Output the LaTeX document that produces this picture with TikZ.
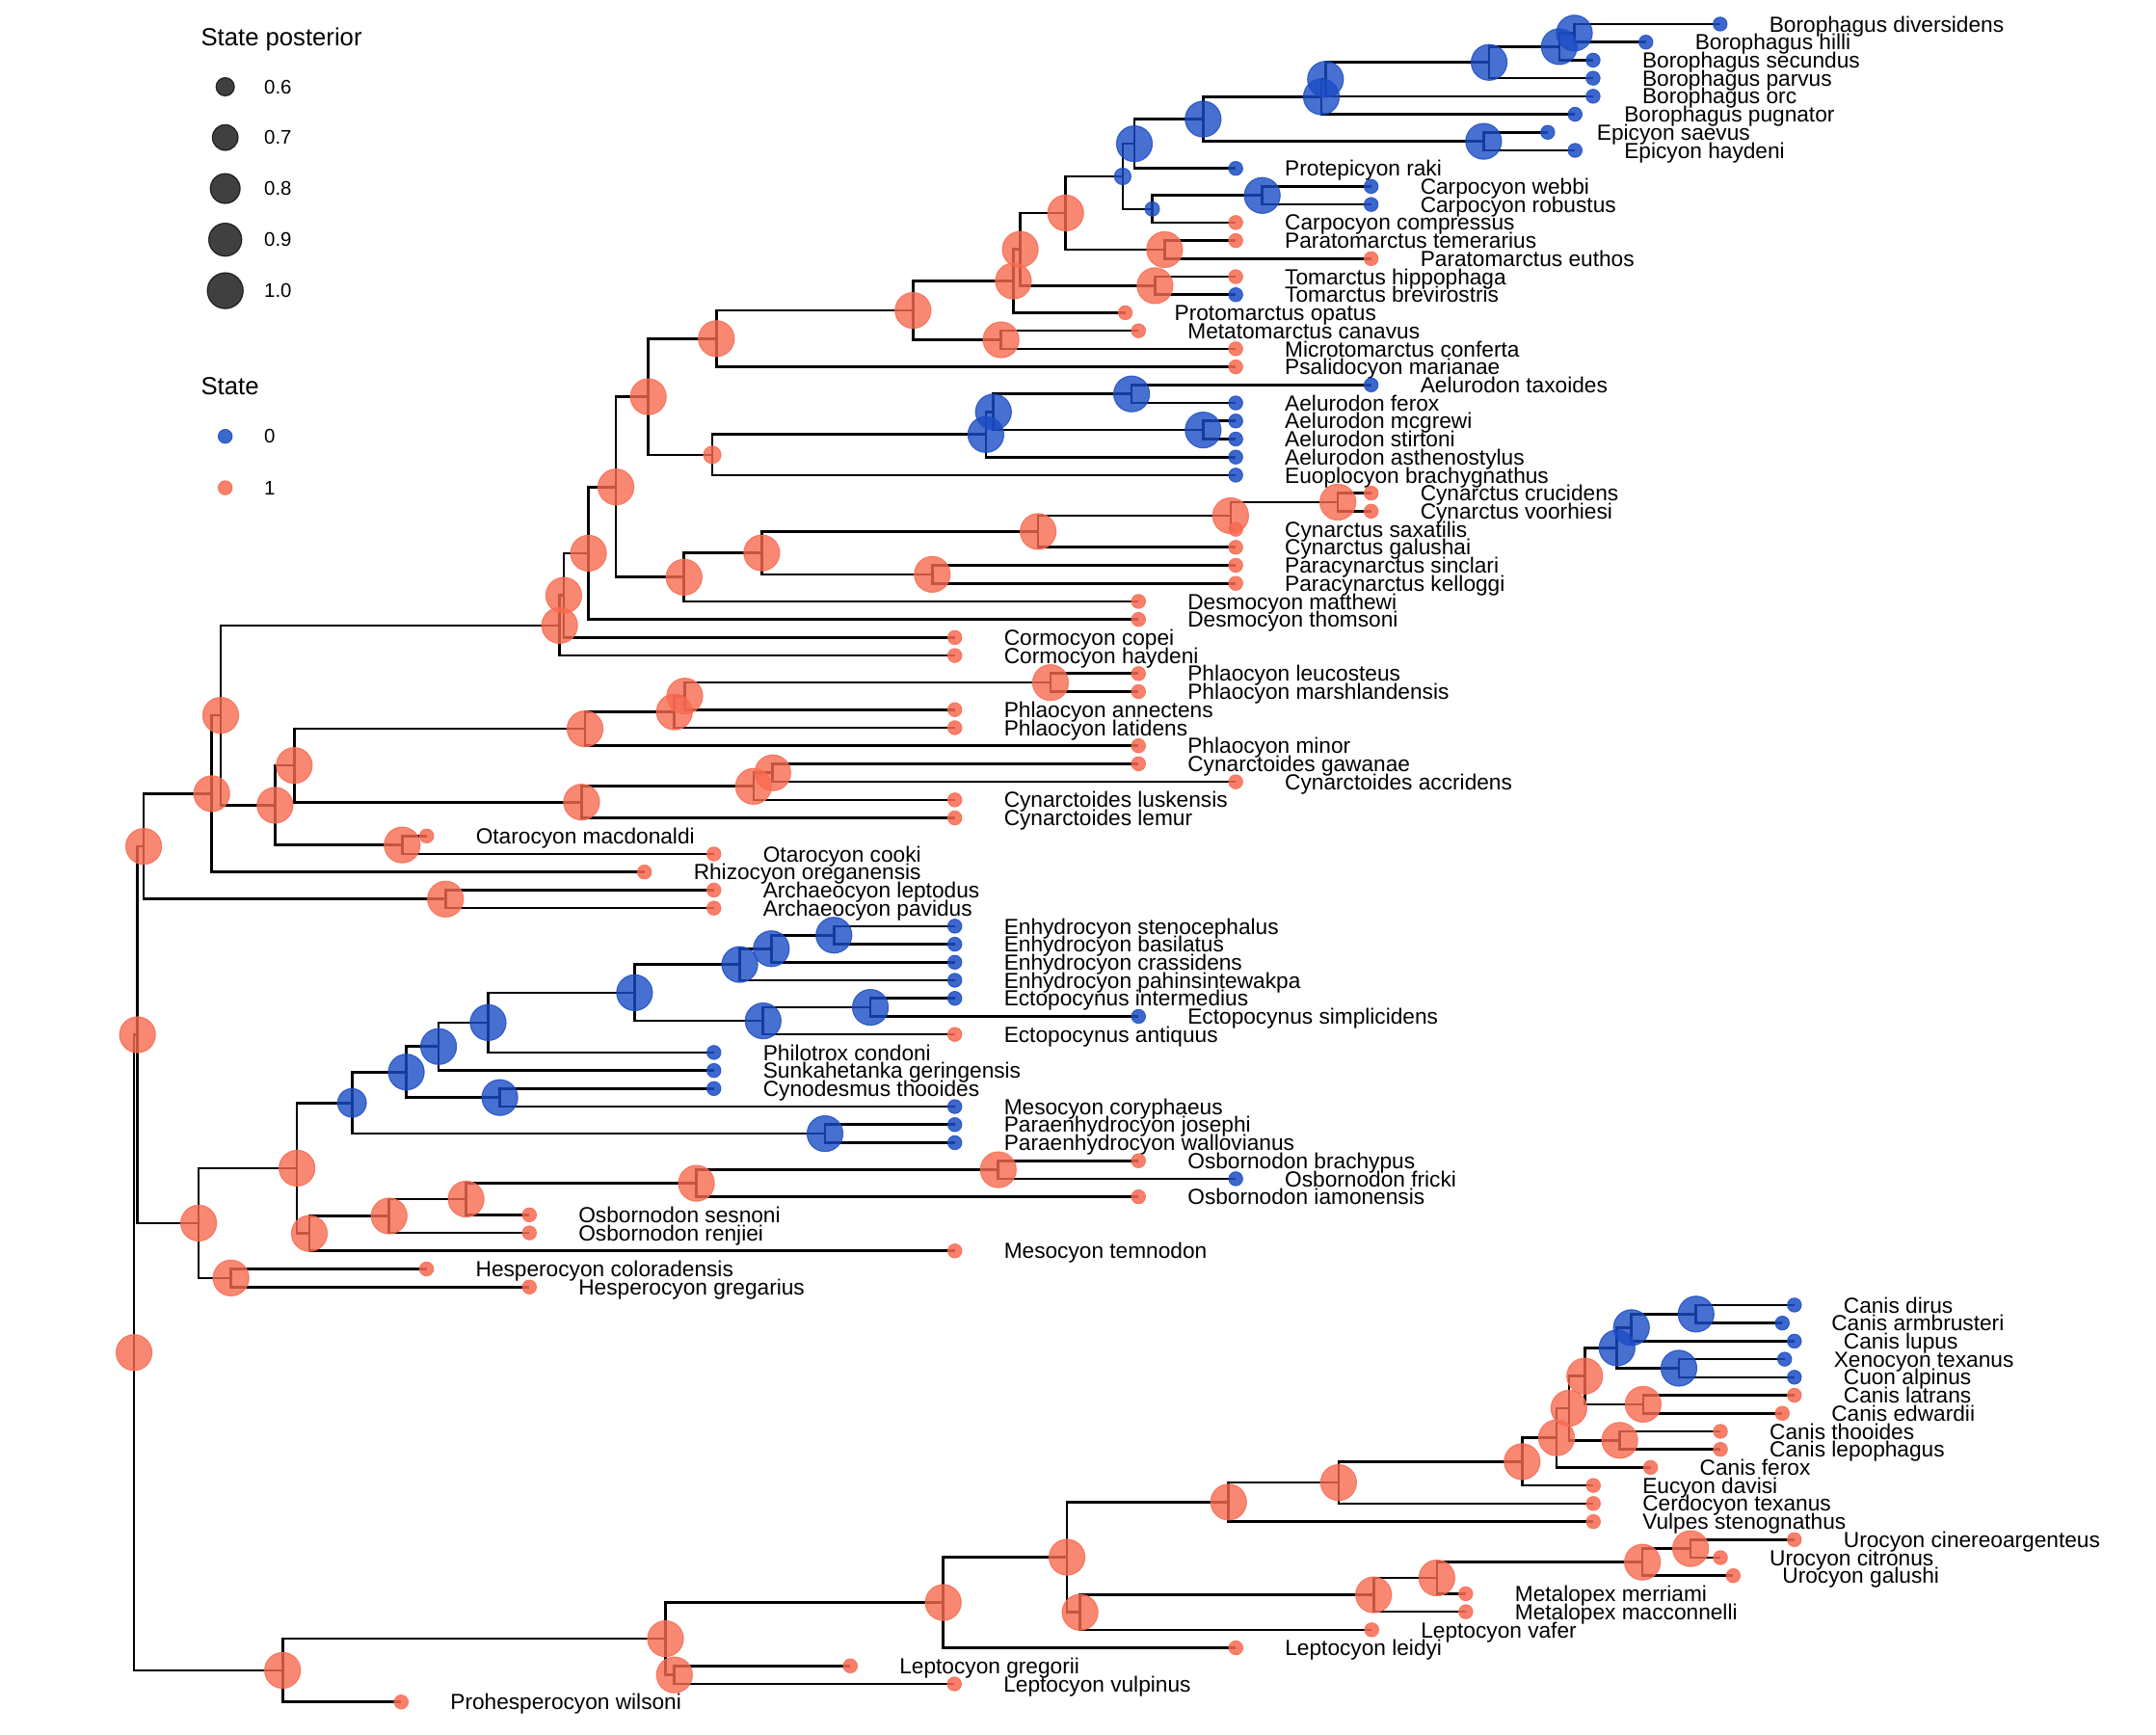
\documentclass[tikz,border=0pt]{standalone}
\usepackage{fontspec}
\setmainfont{Liberation Sans}
\usetikzlibrary{positioning,backgrounds}
\definecolor{StateZero}{RGB}{26,76,196}
\definecolor{StateOne}{RGB}{247,106,80}
\begin{document}
\begin{tikzpicture}
[
x=1pt, y=-1pt,
Branch/.style={draw=black, line width=1.85pt},
NodeZero/.style={circle, fill=StateZero, draw=StateZero, opacity=0.8, line width=0.8pt, inner sep=0pt, outer sep=0pt, minimum size=26pt},
NodeOne/.style={circle, fill=StateOne, draw=StateOne, opacity=0.8, line width=0.8pt, inner sep=0pt, outer sep=0pt, minimum size=26pt},
TipZero/.style={circle, fill=StateZero, draw=StateZero, opacity=0.85, line width=0.6pt, inner sep=0pt, outer sep=0pt, minimum size=10.2pt},
TipOne/.style={circle, fill=StateOne, draw=StateOne, opacity=0.85, line width=0.6pt, inner sep=0pt, outer sep=0pt, minimum size=10.2pt},
KeyDot/.style={circle, fill=black, draw=black, opacity=0.75, line width=0.8pt, inner sep=0pt, outer sep=0pt},
Taxon/.style={font=\fontsize{15.9}{18}\selectfont, inner sep=0pt, text height=11.4pt, text depth=0pt},
KeyTitle/.style={font=\fontsize{18}{21}\selectfont, inner sep=0pt, text height=12.9pt, text depth=0pt, anchor=west},
KeyText/.style={font=\fontsize{14.3}{17}\selectfont, inner sep=0pt, text height=10.2pt, text depth=0pt, anchor=west},
]

\useasboundingbox (0,0) rectangle (1568,1261);

% legend
\node[KeyTitle] (kpost) at (146,26.5) {State posterior};
\node[KeyDot, minimum size=13.3pt] (k6) at (163.8,63.1) {};
\node[KeyDot, minimum size=18.7pt] (k7) at (163.8,100.0) {};
\node[KeyDot, minimum size=21.7pt] (k8) at (163.8,137.1) {};
\node[KeyDot, minimum size=24.0pt] (k9) at (163.8,174.3) {};
\node[KeyDot, minimum size=26.1pt] (k10) at (163.8,211.4) {};
\node[KeyText] (k6l) at (192,63.1) {0.6};
\node[KeyText] (k7l) at (192,100.0) {0.7};
\node[KeyText] (k8l) at (192,137.1) {0.8};
\node[KeyText] (k9l) at (192,174.3) {0.9};
\node[KeyText] (k10l) at (192,211.4) {1.0};
\node[KeyTitle] (kstate) at (146,280.8) {State};
\node[TipZero] (ks0) at (163.8,317.3) {};
\node[TipOne] (ks1) at (163.8,354.7) {};
\node[KeyText] (ks0l) at (192,317.3) {0};
\node[KeyText] (ks1l) at (192,354.7) {1};

% tips: Borophaginae
\node[TipZero] (t1) at (1251,17.50) {}; \node[Taxon, right=30.5pt of t1] (l1) {Borophagus diversidens};
\node[TipZero] (t2) at (1197,30.62) {}; \node[Taxon, right=30.5pt of t2] (l2) {Borophagus hilli};
\node[TipZero] (t3) at (1158.6,43.74) {}; \node[Taxon, right=30.5pt of t3] (l3) {Borophagus secundus};
\node[TipZero] (t4) at (1158.6,56.86) {}; \node[Taxon, right=30.5pt of t4] (l4) {Borophagus parvus};
\node[TipZero] (t5) at (1158.6,69.98) {}; \node[Taxon, right=30.5pt of t5] (l5) {Borophagus orc};
\node[TipZero] (t6) at (1145.5,83.10) {}; \node[Taxon, right=30.5pt of t6] (l6) {Borophagus pugnator};
\node[TipZero] (t7) at (1125.6,96.22) {}; \node[Taxon, right=30.5pt of t7] (l7) {Epicyon saevus};
\node[TipZero] (t8) at (1145.5,109.34) {}; \node[Taxon, right=30.5pt of t8] (l8) {Epicyon haydeni};
\node[TipZero] (t9) at (898.7,122.46) {}; \node[Taxon, right=30.5pt of t9] (l9) {Protepicyon raki};
\node[TipZero] (t10) at (997.2,135.58) {}; \node[Taxon, right=30.5pt of t10] (l10) {Carpocyon webbi};
\node[TipZero] (t11) at (997.2,148.70) {}; \node[Taxon, right=30.5pt of t11] (l11) {Carpocyon robustus};
\node[TipOne] (t12) at (898.7,161.82) {}; \node[Taxon, right=30.5pt of t12] (l12) {Carpocyon compressus};
\node[TipOne] (t13) at (898.7,174.94) {}; \node[Taxon, right=30.5pt of t13] (l13) {Paratomarctus temerarius};
\node[TipOne] (t14) at (997.2,188.06) {}; \node[Taxon, right=30.5pt of t14] (l14) {Paratomarctus euthos};
\node[TipOne] (t15) at (898.7,201.18) {}; \node[Taxon, right=30.5pt of t15] (l15) {Tomarctus hippophaga};
\node[TipZero] (t16) at (898.7,214.30) {}; \node[Taxon, right=30.5pt of t16] (l16) {Tomarctus brevirostris};
\node[TipOne] (t17) at (818.4,227.42) {}; \node[Taxon, right=30.5pt of t17] (l17) {Protomarctus opatus};
\node[TipOne] (t18) at (828,240.54) {}; \node[Taxon, right=30.5pt of t18] (l18) {Metatomarctus canavus};
\node[TipOne] (t19) at (898.7,253.66) {}; \node[Taxon, right=30.5pt of t19] (l19) {Microtomarctus conferta};
\node[TipOne] (t20) at (898.7,266.78) {}; \node[Taxon, right=30.5pt of t20] (l20) {Psalidocyon marianae};
\node[TipZero] (t21) at (997.2,279.90) {}; \node[Taxon, right=30.5pt of t21] (l21) {Aelurodon taxoides};
\node[TipZero] (t22) at (898.7,293.02) {}; \node[Taxon, right=30.5pt of t22] (l22) {Aelurodon ferox};
\node[TipZero] (t23) at (898.7,306.14) {}; \node[Taxon, right=30.5pt of t23] (l23) {Aelurodon mcgrewi};
\node[TipZero] (t24) at (898.7,319.26) {}; \node[Taxon, right=30.5pt of t24] (l24) {Aelurodon stirtoni};
\node[TipZero] (t25) at (898.7,332.38) {}; \node[Taxon, right=30.5pt of t25] (l25) {Aelurodon asthenostylus};
\node[TipZero] (t26) at (898.7,345.50) {}; \node[Taxon, right=30.5pt of t26] (l26) {Euoplocyon brachygnathus};
\node[TipOne] (t27) at (997.2,358.62) {}; \node[Taxon, right=30.5pt of t27] (l27) {Cynarctus crucidens};
\node[TipOne] (t28) at (997.2,371.74) {}; \node[Taxon, right=30.5pt of t28] (l28) {Cynarctus voorhiesi};
\node[TipOne] (t29) at (898.7,384.86) {}; \node[Taxon, right=30.5pt of t29] (l29) {Cynarctus saxatilis};
\node[TipOne] (t30) at (898.7,397.98) {}; \node[Taxon, right=30.5pt of t30] (l30) {Cynarctus galushai};
\node[TipOne] (t31) at (898.7,411.10) {}; \node[Taxon, right=30.5pt of t31] (l31) {Paracynarctus sinclari};
\node[TipOne] (t32) at (898.7,424.22) {}; \node[Taxon, right=30.5pt of t32] (l32) {Paracynarctus kelloggi};
\node[TipOne] (t33) at (828,437.34) {}; \node[Taxon, right=30.5pt of t33] (l33) {Desmocyon matthewi};
\node[TipOne] (t34) at (828,450.46) {}; \node[Taxon, right=30.5pt of t34] (l34) {Desmocyon thomsoni};
\node[TipOne] (t35) at (694.4,463.58) {}; \node[Taxon, right=30.5pt of t35] (l35) {Cormocyon copei};
\node[TipOne] (t36) at (694.4,476.70) {}; \node[Taxon, right=30.5pt of t36] (l36) {Cormocyon haydeni};
\node[TipOne] (t37) at (828,489.82) {}; \node[Taxon, right=30.5pt of t37] (l37) {Phlaocyon leucosteus};
\node[TipOne] (t38) at (828,502.94) {}; \node[Taxon, right=30.5pt of t38] (l38) {Phlaocyon marshlandensis};
\node[TipOne] (t39) at (694.4,516.06) {}; \node[Taxon, right=30.5pt of t39] (l39) {Phlaocyon annectens};
\node[TipOne] (t40) at (694.4,529.18) {}; \node[Taxon, right=30.5pt of t40] (l40) {Phlaocyon latidens};
\node[TipOne] (t41) at (828,542.30) {}; \node[Taxon, right=30.5pt of t41] (l41) {Phlaocyon minor};
\node[TipOne] (t42) at (828,555.42) {}; \node[Taxon, right=30.5pt of t42] (l42) {Cynarctoides gawanae};
\node[TipOne] (t43) at (898.7,568.54) {}; \node[Taxon, right=30.5pt of t43] (l43) {Cynarctoides accridens};
\node[TipOne] (t44) at (694.4,581.66) {}; \node[Taxon, right=30.5pt of t44] (l44) {Cynarctoides luskensis};
\node[TipOne] (t45) at (694.4,594.78) {}; \node[Taxon, right=30.5pt of t45] (l45) {Cynarctoides lemur};
\node[TipOne] (t46) at (310.3,607.90) {}; \node[Taxon, right=30.5pt of t46] (l46) {Otarocyon macdonaldi};
\node[TipOne] (t47) at (519.2,621.02) {}; \node[Taxon, right=30.5pt of t47] (l47) {Otarocyon cooki};
\node[TipOne] (t48) at (468.7,634.14) {}; \node[Taxon, right=30.5pt of t48] (l48) {Rhizocyon oreganensis};
\node[TipOne] (t49) at (519.2,647.26) {}; \node[Taxon, right=30.5pt of t49] (l49) {Archaeocyon leptodus};
\node[TipOne] (t50) at (519.2,660.38) {}; \node[Taxon, right=30.5pt of t50] (l50) {Archaeocyon pavidus};

% tips: Hesperocyoninae
\node[TipZero] (t51) at (694.4,673.50) {}; \node[Taxon, right=30.5pt of t51] (l51) {Enhydrocyon stenocephalus};
\node[TipZero] (t52) at (694.4,686.62) {}; \node[Taxon, right=30.5pt of t52] (l52) {Enhydrocyon basilatus};
\node[TipZero] (t53) at (694.4,699.74) {}; \node[Taxon, right=30.5pt of t53] (l53) {Enhydrocyon crassidens};
\node[TipZero] (t54) at (694.4,712.86) {}; \node[Taxon, right=30.5pt of t54] (l54) {Enhydrocyon pahinsintewakpa};
\node[TipZero] (t55) at (694.4,725.98) {}; \node[Taxon, right=30.5pt of t55] (l55) {Ectopocynus intermedius};
\node[TipZero] (t56) at (828,739.10) {}; \node[Taxon, right=30.5pt of t56] (l56) {Ectopocynus simplicidens};
\node[TipOne] (t57) at (694.4,752.22) {}; \node[Taxon, right=30.5pt of t57] (l57) {Ectopocynus antiquus};
\node[TipZero] (t58) at (519.2,765.34) {}; \node[Taxon, right=30.5pt of t58] (l58) {Philotrox condoni};
\node[TipZero] (t59) at (519.2,778.46) {}; \node[Taxon, right=30.5pt of t59] (l59) {Sunkahetanka geringensis};
\node[TipZero] (t60) at (519.2,791.58) {}; \node[Taxon, right=30.5pt of t60] (l60) {Cynodesmus thooides};
\node[TipZero] (t61) at (694.4,804.70) {}; \node[Taxon, right=30.5pt of t61] (l61) {Mesocyon coryphaeus};
\node[TipZero] (t62) at (694.4,817.82) {}; \node[Taxon, right=30.5pt of t62] (l62) {Paraenhydrocyon josephi};
\node[TipZero] (t63) at (694.4,830.94) {}; \node[Taxon, right=30.5pt of t63] (l63) {Paraenhydrocyon wallovianus};
\node[TipOne] (t64) at (828,844.06) {}; \node[Taxon, right=30.5pt of t64] (l64) {Osbornodon brachypus};
\node[TipZero] (t65) at (898.7,857.18) {}; \node[Taxon, right=30.5pt of t65] (l65) {Osbornodon fricki};
\node[TipOne] (t66) at (828,870.30) {}; \node[Taxon, right=30.5pt of t66] (l66) {Osbornodon iamonensis};
\node[TipOne] (t67) at (385,883.42) {}; \node[Taxon, right=30.5pt of t67] (l67) {Osbornodon sesnoni};
\node[TipOne] (t68) at (385,896.54) {}; \node[Taxon, right=30.5pt of t68] (l68) {Osbornodon renjiei};
\node[TipOne] (t69) at (694.4,909.66) {}; \node[Taxon, right=30.5pt of t69] (l69) {Mesocyon temnodon};
\node[TipOne] (t70) at (310.2,922.78) {}; \node[Taxon, right=30.5pt of t70] (l70) {Hesperocyon coloradensis};
\node[TipOne] (t71) at (385,935.90) {}; \node[Taxon, right=30.5pt of t71] (l71) {Hesperocyon gregarius};

% tips: Caninae
\node[TipZero] (t72) at (1305,949.02) {}; \node[Taxon, right=30.5pt of t72] (l72) {Canis dirus};
\node[TipZero] (t73) at (1296.2,962.14) {}; \node[Taxon, right=30.5pt of t73] (l73) {Canis armbrusteri};
\node[TipZero] (t74) at (1305,975.26) {}; \node[Taxon, right=30.5pt of t74] (l74) {Canis lupus};
\node[TipZero] (t75) at (1297.9,988.38) {}; \node[Taxon, right=30.5pt of t75] (l75) {Xenocyon texanus};
\node[TipZero] (t76) at (1305,1001.50) {}; \node[Taxon, right=30.5pt of t76] (l76) {Cuon alpinus};
\node[TipOne] (t77) at (1305,1014.62) {}; \node[Taxon, right=30.5pt of t77] (l77) {Canis latrans};
\node[TipOne] (t78) at (1296.2,1027.74) {}; \node[Taxon, right=30.5pt of t78] (l78) {Canis edwardii};
\node[TipOne] (t79) at (1251.2,1040.86) {}; \node[Taxon, right=30.5pt of t79] (l79) {Canis thooides};
\node[TipOne] (t80) at (1251.2,1053.98) {}; \node[Taxon, right=30.5pt of t80] (l80) {Canis lepophagus};
\node[TipOne] (t81) at (1200.4,1067.10) {}; \node[Taxon, right=30.5pt of t81] (l81) {Canis ferox};
\node[TipOne] (t82) at (1158.8,1080.22) {}; \node[Taxon, right=30.5pt of t82] (l82) {Eucyon davisi};
\node[TipOne] (t83) at (1158.8,1093.34) {}; \node[Taxon, right=30.5pt of t83] (l83) {Cerdocyon texanus};
\node[TipOne] (t84) at (1158.8,1106.46) {}; \node[Taxon, right=30.5pt of t84] (l84) {Vulpes stenognathus};
\node[TipOne] (t85) at (1305,1119.58) {}; \node[Taxon, right=30.5pt of t85] (l85) {Urocyon cinereoargenteus};
\node[TipOne] (t86) at (1251.2,1132.70) {}; \node[Taxon, right=30.5pt of t86] (l86) {Urocyon citronus};
\node[TipOne] (t87) at (1260.5,1145.82) {}; \node[Taxon, right=30.5pt of t87] (l87) {Urocyon galushi};
\node[TipOne] (t88) at (1066,1158.94) {}; \node[Taxon, right=30.5pt of t88] (l88) {Metalopex merriami};
\node[TipOne] (t89) at (1066,1172.06) {}; \node[Taxon, right=30.5pt of t89] (l89) {Metalopex macconnelli};
\node[TipOne] (t90) at (997.6,1185.18) {}; \node[Taxon, right=30.5pt of t90] (l90) {Leptocyon vafer};
\node[TipOne] (t91) at (898.8,1198.30) {}; \node[Taxon, right=30.5pt of t91] (l91) {Leptocyon leidyi};
\node[TipOne] (t92) at (618.4,1211.42) {}; \node[Taxon, right=30.5pt of t92] (l92) {Leptocyon gregorii};
\node[TipOne] (t93) at (694.1,1224.54) {}; \node[Taxon, right=30.5pt of t93] (l93) {Leptocyon vulpinus};
\node[TipOne] (t94) at (291.8,1237.66) {}; \node[Taxon, right=30.5pt of t94] (l94) {Prohesperocyon wilsoni};

% ancestral states: Borophaginae
\node[NodeZero] (n1) at (1145,24.06) {};
\node[NodeZero] (n2) at (1134,33.90) {};
\node[NodeZero] (n3) at (1083,45.38) {};
\node[NodeZero] (n4) at (964,57.68) {};
\node[NodeZero] (n5) at (961,70.39) {};
\node[NodeZero] (epi) at (1079,102.78) {};
\node[NodeZero] (n6) at (875,86.59) {};
\node[NodeZero] (n7) at (825,104.52) {};
\node[NodeZero] (carp) at (918,142.14) {};
\node[NodeZero, minimum size=10.4pt] (n8) at (838,151.98) {};
\node[NodeZero, minimum size=12pt] (n9) at (816.5,128.25) {};
\node[NodeOne] (para) at (847,181.50) {};
\node[NodeOne] (n10) at (775,154.88) {};
\node[NodeOne] (tom) at (840,207.74) {};
\node[NodeOne] (n11) at (742,181.31) {};
\node[NodeOne] (n12) at (737,204.37) {};
\node[NodeOne] (meta) at (728,247.10) {};
\node[NodeOne] (n13) at (664,225.74) {};
\node[NodeOne] (n14) at (521,246.26) {};
\node[NodeZero] (ael1) at (823,286.46) {};
\node[NodeZero] (ael2) at (875,312.70) {};
\node[NodeZero] (ael3) at (722.5,299.58) {};
\node[NodeZero] (ael4) at (717,315.98) {};
\node[NodeOne, minimum size=12.6pt] (ael5) at (518,330.74) {};
\node[NodeOne] (n15) at (471.5,288.50) {};
\node[NodeOne] (cyn1) at (973,365.18) {};
\node[NodeOne] (cyn2) at (895,375.02) {};
\node[NodeOne] (cyn3) at (755,386.50) {};
\node[NodeOne] (pcyn) at (678,417.66) {};
\node[NodeOne] (cyn4) at (554,402.08) {};
\node[NodeOne] (cyn5) at (497.5,419.71) {};
\node[NodeOne] (n16) at (448,354.11) {};
\node[NodeOne] (n17) at (428,402.29) {};
\node[NodeOne] (n18) at (410,432.94) {};
\node[NodeOne] (n19) at (407,454.82) {};
\node[NodeOne] (phl1) at (764,496.38) {};
\node[NodeOne] (phl2) at (498,506.22) {};
\node[NodeOne] (phl3) at (490.5,517.70) {};
\node[NodeOne] (phl4) at (425.5,530.00) {};
\node[NodeOne] (cyd1) at (562,561.98) {};
\node[NodeOne] (cyd2) at (548,571.82) {};
\node[NodeOne] (cyd3) at (423,583.30) {};
\node[NodeOne] (phc) at (214,556.65) {};
\node[NodeOne] (ota) at (292.5,614.46) {};
\node[NodeOne] (phot) at (200,585.56) {};
\node[NodeOne] (bor1) at (160.5,520.19) {};
\node[NodeOne] (bor2) at (154,577.17) {};
\node[NodeOne] (arch) at (324,653.82) {};
\node[NodeOne] (bor3) at (104.5,615.50) {};

% ancestral states: Hesperocyoninae
\node[NodeZero] (enh1) at (606.5,680.06) {};
\node[NodeZero] (enh2) at (561,689.90) {};
\node[NodeZero] (enh3) at (538,701.38) {};
\node[NodeZero] (ect1) at (633,732.54) {};
\node[NodeZero] (ect2) at (555,742.38) {};
\node[NodeZero] (h1) at (461.5,721.88) {};
\node[NodeZero] (h2) at (355,743.61) {};
\node[NodeZero] (h3) at (319,761.04) {};
\node[NodeZero] (cyme) at (363.5,798.14) {};
\node[NodeZero] (h4) at (295.5,779.59) {};
\node[NodeZero] (paen) at (600,824.38) {};
\node[NodeZero, minimum size=20.8pt] (h5) at (256,801.99) {};
\node[NodeOne] (osb1) at (726,850.62) {};
\node[NodeOne] (osb2) at (506.5,860.46) {};
\node[NodeOne] (osb3) at (339,871.94) {};
\node[NodeOne] (osb4) at (283,884.24) {};
\node[NodeOne] (osb5) at (225,896.95) {};
\node[NodeOne] (h6) at (216,849.47) {};
\node[NodeOne] (hes) at (168,929.34) {};
\node[NodeOne] (h7) at (144.5,889.41) {};
\node[NodeOne] (hbor) at (100,752.46) {};

% ancestral states: Caninae
\node[NodeZero] (c1) at (1233.5,955.58) {};
\node[NodeZero] (c2) at (1186.5,965.42) {};
\node[NodeZero] (xecu) at (1221,994.94) {};
\node[NodeZero] (c3) at (1176,980.18) {};
\node[NodeOne] (cala) at (1195,1021.18) {};
\node[NodeOne] (c4) at (1152.5,1000.68) {};
\node[NodeOne] (cath) at (1178,1047.42) {};
\node[NodeOne] (c5) at (1141,1024.05) {};
\node[NodeOne] (c6) at (1132,1045.58) {};
\node[NodeOne] (c7) at (1107,1062.90) {};
\node[NodeOne] (c8) at (973.5,1078.12) {};
\node[NodeOne] (c9) at (893.5,1092.29) {};
\node[NodeOne] (u1) at (1229.5,1126.14) {};
\node[NodeOne] (u2) at (1194.5,1135.98) {};
\node[NodeOne] (u3) at (1045,1147.46) {};
\node[NodeOne] (u4) at (999,1159.76) {};
\node[NodeOne] (u5) at (785.5,1172.47) {};
\node[NodeOne] (u6) at (776,1132.38) {};
\node[NodeOne] (u7) at (686,1165.34) {};
\node[NodeOne] (lep) at (490.5,1217.98) {};
\node[NodeOne] (u8) at (484,1191.66) {};
\node[NodeOne] (u9) at (205.5,1214.66) {};
\node[NodeOne] (base) at (97.5,983.56) {};

% branches, under the circles
\begin{scope}[on background layer]
\draw[Branch] (t1.center) -| (n1.center) |- (t2.center);
\draw[Branch] (n1.center) -| (n2.center) |- (t3.center);
\draw[Branch] (n2.center) -| (n3.center) |- (t4.center);
\draw[Branch] (n3.center) -| (n4.center) |- (t5.center);
\draw[Branch] (n4.center) -| (n5.center) |- (t6.center);
\draw[Branch] (t7.center) -| (epi.center) |- (t8.center);
\draw[Branch] (n5.center) -| (n6.center) |- (epi.center);
\draw[Branch] (n6.center) -| (n7.center) |- (t9.center);
\draw[Branch] (t10.center) -| (carp.center) |- (t11.center);
\draw[Branch] (carp.center) -| (n8.center) |- (t12.center);
\draw[Branch] (n7.center) -| (n9.center) |- (n8.center);
\draw[Branch] (t13.center) -| (para.center) |- (t14.center);
\draw[Branch] (n9.center) -| (n10.center) |- (para.center);
\draw[Branch] (t15.center) -| (tom.center) |- (t16.center);
\draw[Branch] (n10.center) -| (n11.center) |- (tom.center);
\draw[Branch] (n11.center) -| (n12.center) |- (t17.center);
\draw[Branch] (t18.center) -| (meta.center) |- (t19.center);
\draw[Branch] (n12.center) -| (n13.center) |- (meta.center);
\draw[Branch] (n13.center) -| (n14.center) |- (t20.center);
\draw[Branch] (t21.center) -| (ael1.center) |- (t22.center);
\draw[Branch] (t23.center) -| (ael2.center) |- (t24.center);
\draw[Branch] (ael1.center) -| (ael3.center) |- (ael2.center);
\draw[Branch] (ael3.center) -| (ael4.center) |- (t25.center);
\draw[Branch] (ael4.center) -| (ael5.center) |- (t26.center);
\draw[Branch] (n14.center) -| (n15.center) |- (ael5.center);
\draw[Branch] (t27.center) -| (cyn1.center) |- (t28.center);
\draw[Branch] (cyn1.center) -| (cyn2.center) |- (t29.center);
\draw[Branch] (cyn2.center) -| (cyn3.center) |- (t30.center);
\draw[Branch] (t31.center) -| (pcyn.center) |- (t32.center);
\draw[Branch] (cyn3.center) -| (cyn4.center) |- (pcyn.center);
\draw[Branch] (cyn4.center) -| (cyn5.center) |- (t33.center);
\draw[Branch] (n15.center) -| (n16.center) |- (cyn5.center);
\draw[Branch] (n16.center) -| (n17.center) |- (t34.center);
\draw[Branch] (n17.center) -| (n18.center) |- (t35.center);
\draw[Branch] (n18.center) -| (n19.center) |- (t36.center);
\draw[Branch] (t37.center) -| (phl1.center) |- (t38.center);
\draw[Branch] (phl1.center) -| (phl2.center) |- (t39.center);
\draw[Branch] (phl2.center) -| (phl3.center) |- (t40.center);
\draw[Branch] (phl3.center) -| (phl4.center) |- (t41.center);
\draw[Branch] (t42.center) -| (cyd1.center) |- (t43.center);
\draw[Branch] (cyd1.center) -| (cyd2.center) |- (t44.center);
\draw[Branch] (cyd2.center) -| (cyd3.center) |- (t45.center);
\draw[Branch] (phl4.center) -| (phc.center) |- (cyd3.center);
\draw[Branch] (t46.center) -| (ota.center) |- (t47.center);
\draw[Branch] (phc.center) -| (phot.center) |- (ota.center);
\draw[Branch] (n19.center) -| (bor1.center) |- (phot.center);
\draw[Branch] (bor1.center) -| (bor2.center) |- (t48.center);
\draw[Branch] (t49.center) -| (arch.center) |- (t50.center);
\draw[Branch] (bor2.center) -| (bor3.center) |- (arch.center);
%
\draw[Branch] (t51.center) -| (enh1.center) |- (t52.center);
\draw[Branch] (enh1.center) -| (enh2.center) |- (t53.center);
\draw[Branch] (enh2.center) -| (enh3.center) |- (t54.center);
\draw[Branch] (t55.center) -| (ect1.center) |- (t56.center);
\draw[Branch] (ect1.center) -| (ect2.center) |- (t57.center);
\draw[Branch] (enh3.center) -| (h1.center) |- (ect2.center);
\draw[Branch] (h1.center) -| (h2.center) |- (t58.center);
\draw[Branch] (h2.center) -| (h3.center) |- (t59.center);
\draw[Branch] (t60.center) -| (cyme.center) |- (t61.center);
\draw[Branch] (h3.center) -| (h4.center) |- (cyme.center);
\draw[Branch] (t62.center) -| (paen.center) |- (t63.center);
\draw[Branch] (h4.center) -| (h5.center) |- (paen.center);
\draw[Branch] (t64.center) -| (osb1.center) |- (t65.center);
\draw[Branch] (osb1.center) -| (osb2.center) |- (t66.center);
\draw[Branch] (osb2.center) -| (osb3.center) |- (t67.center);
\draw[Branch] (osb3.center) -| (osb4.center) |- (t68.center);
\draw[Branch] (osb4.center) -| (osb5.center) |- (t69.center);
\draw[Branch] (h5.center) -| (h6.center) |- (osb5.center);
\draw[Branch] (t70.center) -| (hes.center) |- (t71.center);
\draw[Branch] (h6.center) -| (h7.center) |- (hes.center);
\draw[Branch] (bor3.center) -| (hbor.center) |- (h7.center);
%
\draw[Branch] (t72.center) -| (c1.center) |- (t73.center);
\draw[Branch] (c1.center) -| (c2.center) |- (t74.center);
\draw[Branch] (t75.center) -| (xecu.center) |- (t76.center);
\draw[Branch] (c2.center) -| (c3.center) |- (xecu.center);
\draw[Branch] (t77.center) -| (cala.center) |- (t78.center);
\draw[Branch] (c3.center) -| (c4.center) |- (cala.center);
\draw[Branch] (t79.center) -| (cath.center) |- (t80.center);
\draw[Branch] (c4.center) -| (c5.center) |- (cath.center);
\draw[Branch] (c5.center) -| (c6.center) |- (t81.center);
\draw[Branch] (c6.center) -| (c7.center) |- (t82.center);
\draw[Branch] (c7.center) -| (c8.center) |- (t83.center);
\draw[Branch] (c8.center) -| (c9.center) |- (t84.center);
\draw[Branch] (t85.center) -| (u1.center) |- (t86.center);
\draw[Branch] (u1.center) -| (u2.center) |- (t87.center);
\draw[Branch] (u2.center) -| (u3.center) |- (t88.center);
\draw[Branch] (u3.center) -| (u4.center) |- (t89.center);
\draw[Branch] (u4.center) -| (u5.center) |- (t90.center);
\draw[Branch] (c9.center) -| (u6.center) |- (u5.center);
\draw[Branch] (u6.center) -| (u7.center) |- (t91.center);
\draw[Branch] (t92.center) -| (lep.center) |- (t93.center);
\draw[Branch] (u7.center) -| (u8.center) |- (lep.center);
\draw[Branch] (u8.center) -| (u9.center) |- (t94.center);
\draw[Branch] (hbor.center) -| (base.center) |- (u9.center);
\end{scope}

\end{tikzpicture}
\end{document}
